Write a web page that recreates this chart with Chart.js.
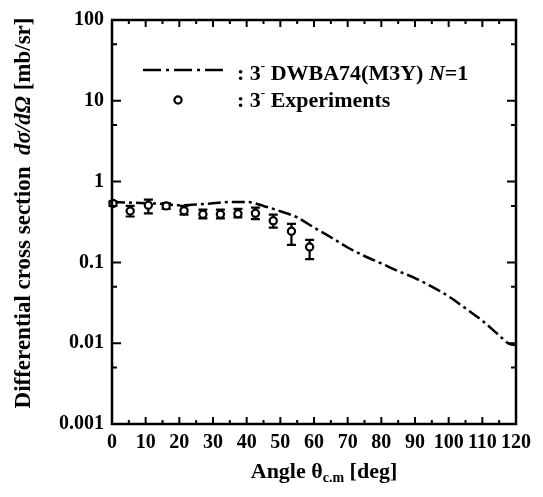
<!DOCTYPE html>
<html>
<head>
<meta charset="utf-8">
<script src="https://cdn.jsdelivr.net/npm/chart.js@4.4.0/dist/chart.umd.min.js"></script>
<style>
  html, body { margin: 0; padding: 0; background: #fff; }
  #wrap { width: 543px; height: 497px; }
</style>
</head>
<body>
<div id="wrap"><canvas id="chart" width="543" height="497"></canvas></div>
<script>
// experiment (3- state)
const expAngles = [0.3, 5.4, 10.8, 16.1, 21.4, 27.0, 32.2, 37.4, 42.6, 47.9, 53.3, 58.7];
const expValues = [0.536, 0.433, 0.51, 0.50, 0.437, 0.394, 0.394, 0.40, 0.405, 0.327, 0.243, 0.155];
const expErrLow = [0.50, 0.37, 0.405, 0.46, 0.39, 0.35, 0.35, 0.36, 0.343, 0.27, 0.165, 0.11];
const expErrHigh = [0.57, 0.50, 0.60, 0.54, 0.50, 0.45, 0.45, 0.46, 0.475, 0.39, 0.30, 0.19];

// DWBA74 (M3Y) N=1 calculation
const calcAngles = [0, 5, 10, 15, 20, 25, 30, 35, 40, 45, 50, 55, 60, 65, 70, 75, 80, 85, 90, 95, 100, 105, 110, 115, 118, 120];
const calcValues = [0.56, 0.55, 0.54, 0.53, 0.51, 0.52, 0.54, 0.56, 0.56, 0.50, 0.43, 0.36, 0.27, 0.205, 0.153, 0.12, 0.097, 0.078, 0.064, 0.05, 0.038, 0.027, 0.019, 0.0125, 0.0098, 0.0095];

const yTicks = [0.001, 0.01, 0.1, 1, 10, 100];
const yTickLabels = ['0.001', '0.01', '0.1', '1', '10', '100'];
const yMinorTicks = [0.005, 0.05, 0.5, 5, 50];
const xMajorStep = 10;
const xMinorStep = 5;

const serif = '"Liberation Serif", "Times New Roman", serif';

// frame, inward ticks, error bars, legend, axis titles
const paperPlugin = {
  id: 'paper',
  afterDatasetsDraw(chart) {
    const ctx = chart.ctx;
    const a = chart.chartArea;
    const xs = chart.scales.x;
    const ys = chart.scales.y;
    ctx.save();
    ctx.strokeStyle = '#000';
    ctx.fillStyle = '#000';

    // error bars + open circles
    ctx.lineWidth = 2.2;
    expAngles.forEach((ang, i) => {
      const px = xs.getPixelForValue(ang);
      const lo = ys.getPixelForValue(expErrLow[i]);
      const hi = ys.getPixelForValue(expErrHigh[i]);
      ctx.beginPath();
      ctx.moveTo(px, lo); ctx.lineTo(px, hi);
      ctx.moveTo(px - 4.5, lo); ctx.lineTo(px + 4.5, lo);
      ctx.moveTo(px - 4.5, hi); ctx.lineTo(px + 4.5, hi);
      ctx.stroke();
    });
    expAngles.forEach((ang, i) => {
      const px = xs.getPixelForValue(ang);
      const py = ys.getPixelForValue(expValues[i]);
      ctx.beginPath();
      ctx.arc(px, py, 3.6, 0, Math.PI * 2);
      ctx.fillStyle = '#fff';
      ctx.fill();
      ctx.stroke();
    });
    ctx.fillStyle = '#000';

    // frame
    ctx.lineWidth = 2.5;
    ctx.strokeRect(a.left, a.top, a.right - a.left, a.bottom - a.top);

    // x ticks, top and bottom, pointing in
    ctx.lineWidth = 2;
    for (let v = xs.min; v <= xs.max; v += xMinorStep) {
      const len = (v % xMajorStep === 0) ? 7 : 4;
      const px = xs.getPixelForValue(v);
      ctx.beginPath();
      ctx.moveTo(px, a.bottom); ctx.lineTo(px, a.bottom - len);
      ctx.moveTo(px, a.top); ctx.lineTo(px, a.top + len);
      ctx.stroke();
    }
    // y ticks, left and right
    yTicks.forEach(v => {
      const py = ys.getPixelForValue(v);
      ctx.beginPath();
      ctx.moveTo(a.left, py); ctx.lineTo(a.left + 9, py);
      ctx.moveTo(a.right, py); ctx.lineTo(a.right - 9, py);
      ctx.stroke();
    });
    yMinorTicks.forEach(v => {
      const py = ys.getPixelForValue(v);
      ctx.beginPath();
      ctx.moveTo(a.left, py); ctx.lineTo(a.left + 5, py);
      ctx.moveTo(a.right, py); ctx.lineTo(a.right - 5, py);
      ctx.stroke();
    });

    // legend
    const calcDs = chart.data.datasets[0];
    ctx.lineWidth = calcDs.borderWidth;
    ctx.setLineDash([18, 5, 3, 5]);
    ctx.beginPath();
    ctx.moveTo(143, 70); ctx.lineTo(227, 70);
    ctx.stroke();
    ctx.setLineDash([]);
    ctx.lineWidth = 2.2;
    ctx.beginPath();
    ctx.arc(178, 100, 3.6, 0, Math.PI * 2);
    ctx.stroke();

    const big = 'bold 22px ' + serif;
    const small = 'bold 13px ' + serif;
    const ital = 'italic bold 22px ' + serif;
    ctx.textBaseline = 'alphabetic';
    ctx.textAlign = 'left';
    const runs = (x, y, parts) => {
      parts.forEach(p => {
        ctx.font = p.font;
        ctx.fillText(p.text, x, y + (p.dy || 0));
        x += ctx.measureText(p.text).width;
      });
      return x;
    };
    runs(237, 80, [
      { text: ': 3', font: big },
      { text: '-', font: small, dy: -10 },
      { text: ' DWBA74(M3Y) ', font: big },
      { text: 'N', font: ital },
      { text: '=1', font: big }
    ]);
    runs(237, 107, [
      { text: ': 3', font: big },
      { text: '-', font: small, dy: -10 },
      { text: ' Experiments', font: big }
    ]);

    // x title
    const xParts = [
      { text: 'Angle θ', font: big },
      { text: 'c.m', font: 'bold 14px ' + serif, dy: 4 },
      { text: ' [deg]', font: big }
    ];
    let w = 0;
    xParts.forEach(p => { ctx.font = p.font; w += ctx.measureText(p.text).width; });
    runs(324 - w / 2, 478, xParts);

    // y title, rotated
    const yT = 'bold 23px ' + serif;
    const yParts = [
      { text: 'Differential cross section  ', font: yT },
      { text: 'dσ/dΩ', font: 'italic ' + yT },
      { text: ' [mb/sr]', font: yT }
    ];
    w = 0;
    yParts.forEach(p => { ctx.font = p.font; w += ctx.measureText(p.text).width; });
    ctx.translate(30, 213);
    ctx.rotate(-Math.PI / 2);
    runs(-w / 2, 0, yParts);

    ctx.restore();
  }
};

new Chart(document.getElementById('chart'), {
  type: 'line',
  data: {
    datasets: [{
      label: '3- DWBA74(M3Y) N=1',
      data: calcAngles.map((x, i) => ({ x: x, y: calcValues[i] })),
      borderColor: '#000',
      borderWidth: 2.5,
      borderDash: [13, 4, 3, 4],
      pointRadius: 0,
      cubicInterpolationMode: 'monotone',
      fill: false
    }, {
      label: '3- Experiments',
      data: expAngles.map((x, i) => ({ x: x, y: expValues[i] })),
      showLine: false,
      pointRadius: 0
    }]
  },
  options: {
    responsive: false,
    animation: false,
    devicePixelRatio: 1,
    layout: { padding: { left: 0, right: 27, top: 17, bottom: 0 } },
    plugins: { legend: { display: false }, tooltip: { enabled: false } },
    scales: {
      x: {
        type: 'linear',
        min: 0,
        max: 120,
        grid: { display: false, drawTicks: false },
        border: { display: false },
        ticks: {
          stepSize: 10,
          padding: 7,
          maxRotation: 0,
          autoSkip: false,
          color: '#000',
          font: { family: serif, size: 20, weight: 'bold' }
        },
        afterFit: s => { s.height = 73; }
      },
      y: {
        type: 'logarithmic',
        min: 0.001,
        max: 100,
        grid: { display: false, drawTicks: false },
        border: { display: false },
        afterBuildTicks: s => { s.ticks = yTicks.map(v => ({ value: v })); },
        ticks: {
          padding: 8,
          color: '#000',
          font: { family: serif, size: 20, weight: 'bold' },
          callback: v => yTickLabels[yTicks.indexOf(v)]
        },
        afterFit: s => { s.width = 112; }
      }
    }
  },
  plugins: [paperPlugin]
});
</script>
</body>
</html>
